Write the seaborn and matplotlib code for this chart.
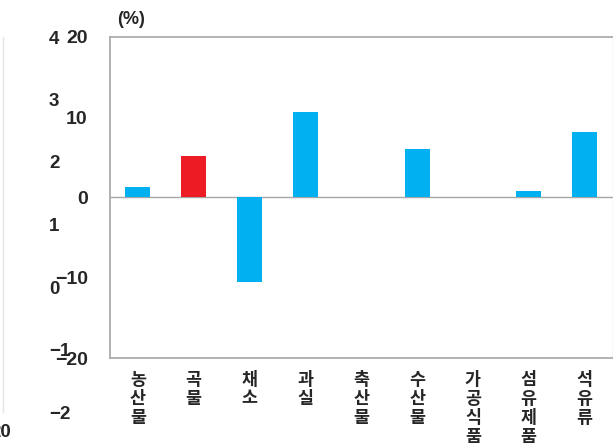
import matplotlib
matplotlib.use("Agg")
import matplotlib.pyplot as plt
import seaborn as sns
import pandas as pd

categories = ["농산물", "곡물", "채소", "과실", "축산물", "수산물", "가공식품", "섬유제품", "석유류"]
values = [1.3, 5.2, -10.5, 10.7, 0.1, 6.0, 0.0, 0.8, 8.2]
bar_colors = ["#00B0F0", "#ED1C24", "#00B0F0", "#00B0F0", "#00B0F0", "#00B0F0", "#00B0F0", "#00B0F0", "#00B0F0"]
main_ticks = [-20, -10, 0, 10, 20]
ghost_ticks = [-2, -1, 0, 1, 2, 3, 4]

sns.set_theme(style="white")
plt.rcParams["font.family"] = ["Liberation Sans", "Noto Sans CJK KR", "DejaVu Sans"]
plt.rcParams["font.weight"] = "bold"

W, H = 613, 444
fig = plt.figure(figsize=(W / 100, H / 100), dpi=100)

def px(x0, y_top, x1, y_bot):
    return [x0 / W, 1 - y_bot / H, (x1 - x0) / W, (y_bot - y_top) / H]

grey = "#A6A6A6"

# neighbouring chart's secondary axis (cropped in reference)
ax0 = fig.add_axes(px(3, 37, 42, 412))
ax0.set_ylim(min(ghost_ticks), max(ghost_ticks))
ax0.set_xticks([])
ax0.set_yticks(ghost_ticks)
ax0.yaxis.tick_right()
ax0.tick_params(axis="y", length=0, pad=5, labelsize=13.5)
for lab in ax0.get_yticklabels():
    lab.set_fontweight("bold")
for s in ["top", "right", "bottom"]:
    ax0.spines[s].set_visible(False)
ax0.spines["left"].set_color("#E4E4E4")
ax0.spines["left"].set_linewidth(1)
ax0.patch.set_alpha(0)
fig.text(11 / W, 1 - 432 / H, "20", ha="right", va="center", fontsize=13.5, fontweight="bold")

ax = fig.add_axes(px(110, 37, 612.5, 358))
df = pd.DataFrame({"cat": categories, "val": values})
sns.barplot(data=df, x="cat", y="val", hue="cat", palette=bar_colors, legend=False,
            width=0.45, saturation=1, linewidth=0, ax=ax)
ax.set_ylim(-20, 20)
ax.set_xlim(-0.5, len(categories) - 0.5)
ax.set_yticks(main_ticks)
ax.set_yticklabels([str(t).replace("-", "\u2212") for t in main_ticks], fontsize=14, fontweight="bold")
ax.set_xticks(range(len(categories)))
ax.set_xticklabels(["\n".join(list(c)) for c in categories], fontsize=12.5, fontweight=900,
                   linespacing=1.08, va="top", family=["Noto Sans CJK KR"])
ax.tick_params(axis="x", length=0, pad=9)
ax.tick_params(axis="y", direction="in", length=5, color=grey, pad=16)
ax.set_xlabel("")
ax.set_ylabel("")
ax.axhline(0, color=grey, linewidth=1, zorder=0)
for s in ["left", "top", "bottom"]:
    ax.spines[s].set_color(grey)
    ax.spines[s].set_linewidth(1.2)
ax.spines["right"].set_color("#E4E4E4")
ax.spines["right"].set_linewidth(1)

fig.text(117 / W, 1 - 19 / H, "(%)", ha="left", va="center", fontsize=13, fontweight="bold")

fig.savefig("out.png", dpi=100)
